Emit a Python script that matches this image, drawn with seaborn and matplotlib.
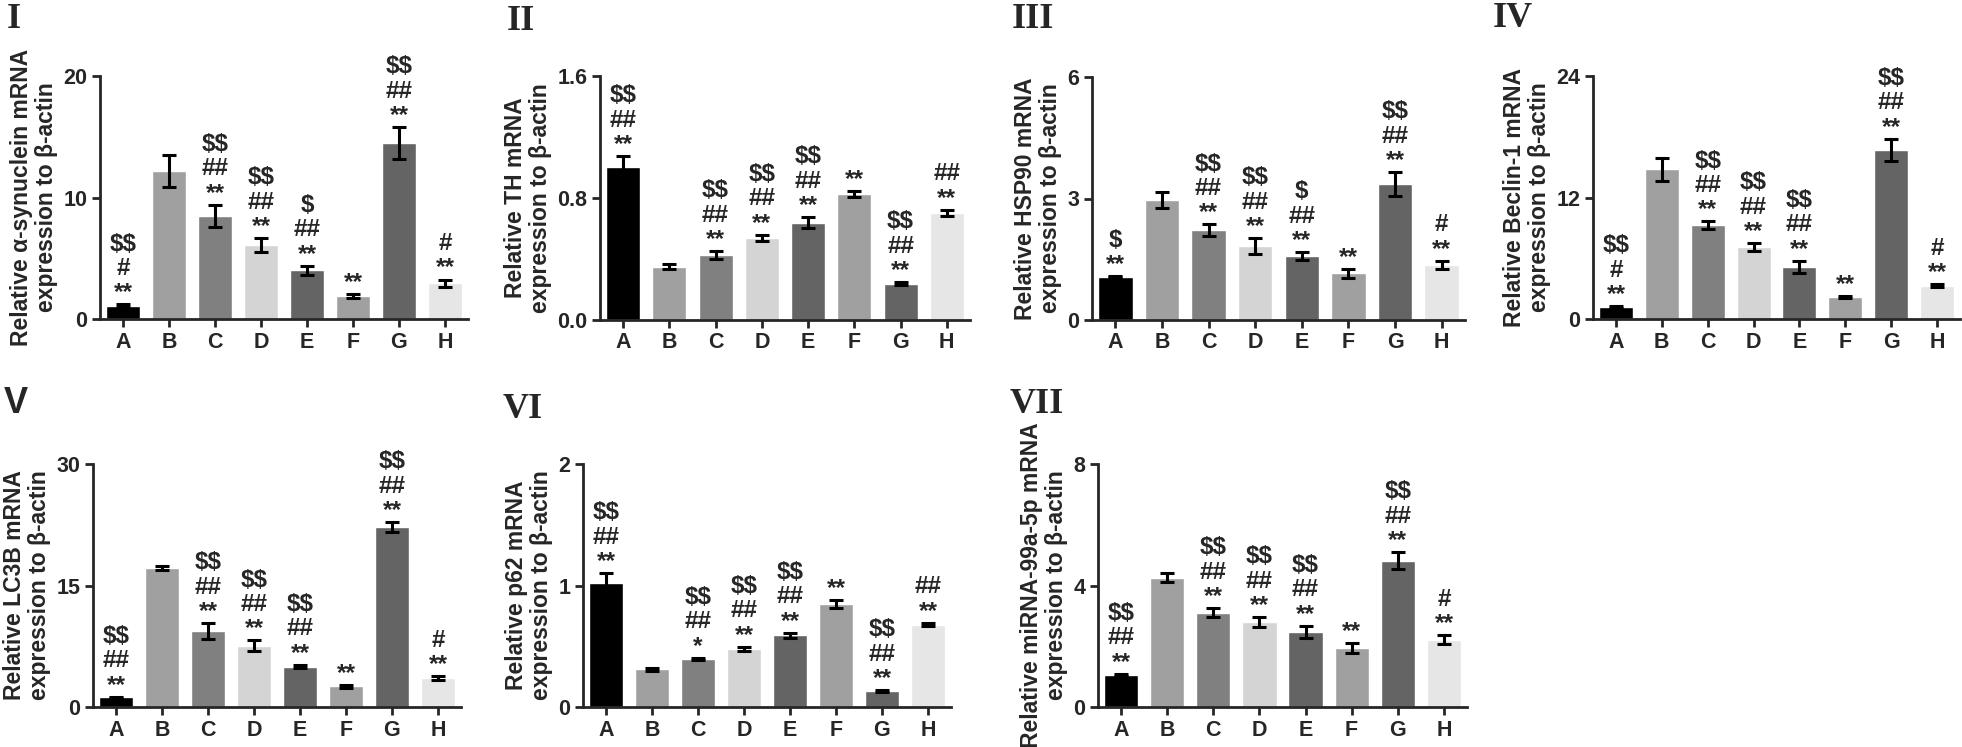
import numpy as np
import pandas as pd
import seaborn as sns
from matplotlib import pyplot as plt

sns.set_style("ticks")
plt.rcParams['font.family'] = ['Liberation Sans', 'DejaVu Sans']
plt.rcParams['font.weight'] = 'bold'

groups = ['A', 'B', 'C', 'D', 'E', 'F', 'G', 'H']
colors = ['#000000', '#a0a0a0', '#808080', '#d4d4d4', '#646464', '#a0a0a0', '#646464', '#e6e6e6']

# panel I: alpha-synuclein
syn_vals = [1.1, 12.2, 8.5, 6.1, 4.0, 1.9, 14.5, 2.95]
syn_errs = [0.1, 1.3, 0.9, 0.55, 0.37, 0.15, 1.3, 0.3]
syn_marks = ['$$\n#\n**', '', '$$\n##\n**', '$$\n##\n**', '$\n##\n**', '**', '$$\n##\n**', '#\n**']

# panel II: TH
th_vals = [1.005, 0.35, 0.425, 0.54, 0.638, 0.824, 0.238, 0.704]
th_errs = [0.07, 0.015, 0.025, 0.02, 0.035, 0.02, 0.01, 0.02]
th_marks = ['$$\n##\n**', '', '$$\n##\n**', '$$\n##\n**', '$$\n##\n**', '**', '$$\n##\n**', '##\n**']

# panel III: HSP90
hsp_vals = [1.07, 2.96, 2.22, 1.83, 1.58, 1.15, 3.35, 1.36]
hsp_errs = [0.01, 0.2, 0.14, 0.19, 0.1, 0.12, 0.3, 0.1]
hsp_marks = ['$\n**', '', '$$\n##\n**', '$$\n##\n**', '$\n##\n**', '**', '$$\n##\n**', '#\n**']

# panel IV: Beclin-1
bec_vals = [1.15, 14.8, 9.28, 7.08, 5.17, 2.2, 16.7, 3.3]
bec_errs = [0.1, 1.15, 0.35, 0.4, 0.6, 0.1, 1.1, 0.15]
bec_marks = ['$$\n#\n**', '', '$$\n##\n**', '$$\n##\n**', '$$\n##\n**', '**', '$$\n##\n**', '#\n**']

# panel V: LC3B
lc3_vals = [1.2, 17.16, 9.34, 7.57, 5.0, 2.55, 22.2, 3.58]
lc3_errs = [0.05, 0.3, 1.0, 0.65, 0.2, 0.2, 0.6, 0.2]
lc3_marks = ['$$\n##\n**', '', '$$\n##\n**', '$$\n##\n**', '$$\n##\n**', '**', '$$\n##\n**', '#\n**']

# panel VI: p62
p62_vals = [1.02, 0.31, 0.395, 0.477, 0.59, 0.848, 0.13, 0.678]
p62_errs = [0.08, 0.01, 0.01, 0.02, 0.02, 0.03, 0.01, 0.015]
p62_marks = ['$$\n##\n**', '', '$$\n##\n*', '$$\n##\n**', '$$\n##\n**', '**', '$$\n##\n**', '##\n**']

# panel VII: miRNA-99a-5p
mir_vals = [1.06, 4.25, 3.1, 2.79, 2.47, 1.94, 4.82, 2.22]
mir_errs = [0.03, 0.15, 0.15, 0.17, 0.2, 0.17, 0.28, 0.15]
mir_marks = ['$$\n##\n**', '', '$$\n##\n**', '$$\n##\n**', '$$\n##\n**', '**', '$$\n##\n**', '#\n**']

panels = [
    ('I', 'Relative α-synuclein mRNA\nexpression to β-actin', syn_vals, syn_errs, syn_marks, [0, 10, 20], ['0', '10', '20']),
    ('II', 'Relative TH mRNA\nexpression to β-actin', th_vals, th_errs, th_marks, [0, 0.8, 1.6], ['0.0', '0.8', '1.6']),
    ('III', 'Relative HSP90 mRNA\nexpression to β-actin', hsp_vals, hsp_errs, hsp_marks, [0, 3, 6], ['0', '3', '6']),
    ('IV', 'Relative Beclin-1 mRNA\nexpression to β-actin', bec_vals, bec_errs, bec_marks, [0, 12, 24], ['0', '12', '24']),
    ('V', 'Relative LC3B mRNA\nexpression to β-actin', lc3_vals, lc3_errs, lc3_marks, [0, 15, 30], ['0', '15', '30']),
    ('VI', 'Relative p62 mRNA\nexpression to β-actin', p62_vals, p62_errs, p62_marks, [0, 1, 2], ['0', '1', '2']),
    ('VII', 'Relative miRNA-99a-5p mRNA\nexpression to β-actin', mir_vals, mir_errs, mir_marks, [0, 4, 8], ['0', '4', '8']),
]

W, H = 1962, 747
# axes boxes in pixels: left, right, top, bottom
boxes = [(100, 468, 76, 319), (600, 970, 76, 320), (1092, 1465, 77, 320), (1593, 1960, 76, 319),
         (93, 461, 464, 707), (583, 951, 464, 707), (1098, 1467, 464, 707)]
label_pos = [(7, 3), (507, 5), (1012, 3), (1493, 2), (4, 386), (503, 393), (1010, 388)]

fig = plt.figure(figsize=(W / 100, H / 100), dpi=100)

for k, (tag, ylab, vals, errs, marks, ticks, ticklabels) in enumerate(panels):
    l, r, t, b = boxes[k]
    ax = fig.add_axes([l / W, 1 - b / H, (r - l) / W, (b - t) / H])
    df = pd.DataFrame({'group': groups, 'value': vals})
    sns.barplot(data=df, x='group', y='value', hue='group', palette=colors, width=0.74,
                saturation=1, errorbar=None, legend=False, ax=ax)
    ax.errorbar(range(len(groups)), vals, yerr=errs, fmt='none', ecolor='black',
                elinewidth=2.2, capsize=5, capthick=2.2, zorder=3)
    for i, m in enumerate(marks):
        if m:
            ax.annotate(m, xy=(i, vals[i] + errs[i]), xytext=(0, 0), textcoords='offset points',
                        ha='center', va='bottom', fontsize=17.5, fontweight='bold',
                        linespacing=1.08, parse_math=False)
    ax.set_xlim(-0.5, 7.5)
    ax.set_ylim(0, ticks[-1])
    ax.set_yticks(ticks)
    ax.set_yticklabels(ticklabels)
    ax.set_xlabel('')
    ax.set_ylabel(ylab, fontsize=16.5, fontweight='bold', labelpad=4, linespacing=1.1)
    sns.despine(ax=ax)
    for s in ['left', 'bottom']:
        ax.spines[s].set_linewidth(2)
    ax.tick_params(axis='both', width=2, length=6, labelsize=15.5, pad=3)
    for lab in ax.get_xticklabels() + ax.get_yticklabels():
        lab.set_fontweight('bold')
    fam = ['Liberation Sans'] if tag == 'V' else ['Liberation Serif']
    fig.text(label_pos[k][0] / W, 1 - label_pos[k][1] / H, tag, fontsize=26, fontweight='bold',
             family=fam, ha='left', va='top')

fig.savefig('out.png', dpi=100)
